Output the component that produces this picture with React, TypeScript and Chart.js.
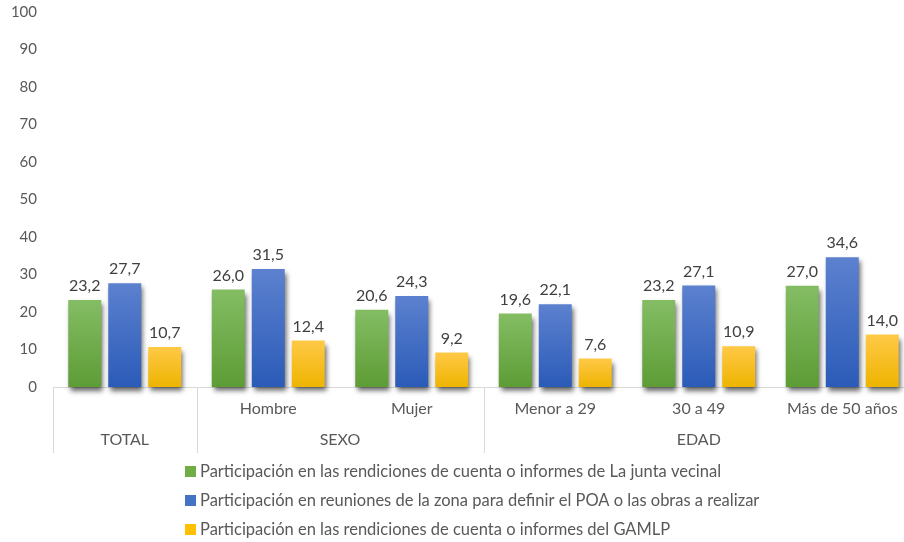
import React, { useEffect, useRef } from "react";
import { Chart, registerables } from "chart.js";

Chart.register(...registerables);

const categories = ["TOTAL", "Hombre", "Mujer", "Menor a 29", "30 a 49", "Más de 50 años"];
const tickLabels = ["", "Hombre", "Mujer", "Menor a 29", "30 a 49", "Más de 50 años"];
const groupLabels = ["TOTAL", "SEXO", "EDAD"];
const groupStarts = [0, 1, 3];
const groupEnds = [0, 2, 5];

const seriesNames = [
  "Participación en las rendiciones de cuenta o informes de La junta vecinal",
  "Participación en reuniones de la zona para definir el POA o las obras a realizar",
  "Participación en las rendiciones de cuenta o informes del GAMLP",
];
const juntaVecinal = [23.2, 26.0, 20.6, 19.6, 23.2, 27.0];
const reunionesPOA = [27.7, 31.5, 24.3, 22.1, 27.1, 34.6];
const informesGAMLP = [10.7, 12.4, 9.2, 7.6, 10.9, 14.0];

const yTicks = [0, 10, 20, 30, 40, 50, 60, 70, 80, 90, 100];

const FONT = "Lato, 'Open Sans', sans-serif";
const TEXT = "#595959";
const LABEL = "#404040";

const palettes = [
  { top: "#84bd64", bottom: "#5d9c35", solid: "#70ad47" },
  { top: "#5c81cf", bottom: "#2b5bb8", solid: "#4472c4" },
  { top: "#ffc947", bottom: "#eeb400", solid: "#ffc000" },
];

function gradientFor(idx: number) {
  return (ctx: any) => {
    const chart = ctx.chart;
    const p = palettes[idx];
    if (!chart.chartArea || ctx.type !== "data" || !chart.scales.y) return p.solid;
    const y = chart.scales.y;
    const top = y.getPixelForValue(ctx.raw);
    const bottom = y.getPixelForValue(0);
    if (!isFinite(top) || !isFinite(bottom) || top === bottom) return p.solid;
    const g = chart.ctx.createLinearGradient(0, top, 0, bottom);
    g.addColorStop(0, p.top);
    g.addColorStop(1, p.bottom);
    return g;
  };
}

const shadowPlugin = {
  id: "barShadow",
  beforeDatasetsDraw(chart: any) {
    const c = chart.ctx;
    c.save();
    c.shadowColor = "rgba(0,0,0,0.6)";
    c.shadowBlur = 5;
    c.shadowOffsetX = 2;
    c.shadowOffsetY = 4;
  },
  afterDatasetsDraw(chart: any) {
    const c = chart.ctx;
    c.restore();
    c.save();
    c.font = `16px ${FONT}`;
    c.fillStyle = LABEL;
    c.textAlign = "center";
    c.textBaseline = "bottom";
    chart.data.datasets.forEach((ds: any, di: number) => {
      const meta = chart.getDatasetMeta(di);
      meta.data.forEach((el: any, i: number) => {
        const v = ds.data[i];
        c.fillText(v.toFixed(1).replace(".", ","), el.x, el.y - 6);
      });
    });
    c.restore();
  },
  afterDraw(chart: any) {
    const c = chart.ctx;
    const x = chart.scales.x;
    const base = chart.chartArea.bottom;
    c.save();
    c.strokeStyle = "#d9d9d9";
    c.lineWidth = 1;
    const half = (x.getPixelForValue(1) - x.getPixelForValue(0)) / 2;
    const seps: number[] = [];
    groupStarts.forEach((s) => seps.push(x.getPixelForValue(s) - half));
    seps.push(x.getPixelForValue(categories.length - 1) + half);
    seps.forEach((px) => {
      const xx = Math.round(px) + 0.5;
      c.beginPath();
      c.moveTo(xx, base);
      c.lineTo(xx, base + 66);
      c.stroke();
    });
    c.font = `16px ${FONT}`;
    c.fillStyle = TEXT;
    c.textAlign = "center";
    c.textBaseline = "middle";
    tickLabels.forEach((t, i) => {
      if (t) c.fillText(t, x.getPixelForValue(i), base + 22);
    });
    groupLabels.forEach((g, gi) => {
      const l = x.getPixelForValue(groupStarts[gi]) - half;
      const r = x.getPixelForValue(groupEnds[gi]) + half;
      c.fillText(g, (l + r) / 2, base + 53);
    });
    c.font = `16.5px ${FONT}`;
    c.textAlign = "left";
    const rows = [471, 500, 529];
    seriesNames.forEach((n, i) => {
      c.fillStyle = palettes[i].solid;
      c.fillRect(185, rows[i] - 5, 11, 11);
      c.fillStyle = TEXT;
      c.fillText(n, 200, rows[i] + 1);
    });
    c.restore();
  },
};

export default function App() {
  const ref = useRef<HTMLCanvasElement | null>(null);
  useEffect(() => {
    if (!ref.current) return;
    const chart = new Chart(ref.current, {
      type: "bar",
      data: {
        labels: categories,
        datasets: [juntaVecinal, reunionesPOA, informesGAMLP].map((d, i) => ({
          label: seriesNames[i],
          data: d,
          backgroundColor: gradientFor(i),
          borderWidth: 0,
          categoryPercentage: 0.836,
          barPercentage: 0.825,
          clip: false as any,
        })),
      },
      options: {
        responsive: false,
        animation: false,
        devicePixelRatio: 1,
        layout: { padding: { top: 12, right: 16, bottom: 0, left: 0 } },
        plugins: { legend: { display: false }, tooltip: { enabled: false } },
        scales: {
          x: {
            grid: { display: false, drawTicks: false },
            border: { display: true, color: "#d9d9d9", width: 1 },
            ticks: { display: false },
            afterFit: (s: any) => {
              s.height = 155;
            },
          },
          y: {
            min: 0,
            max: 100,
            afterBuildTicks: (s: any) => {
              s.ticks = yTicks.map((v) => ({ value: v }));
            },
            grid: { display: false, drawTicks: false },
            border: { display: false },
            ticks: { color: TEXT, font: { size: 15, family: FONT }, padding: 16 },
            afterFit: (s: any) => {
              s.width = 53;
              s.paddingTop = 0;
              s.paddingBottom = 0;
            },
          },
        },
      },
      plugins: [shadowPlugin],
    });
    return () => chart.destroy();
  }, []);
  return (
    <div
      style={{
        position: "fixed",
        left: 0,
        top: 0,
        width: 904,
        height: 542,
        overflow: "hidden",
        background: "#fff",
      }}
    >
      <canvas ref={ref} width={930} height={542} style={{ display: "block" }} />
    </div>
  );
}
